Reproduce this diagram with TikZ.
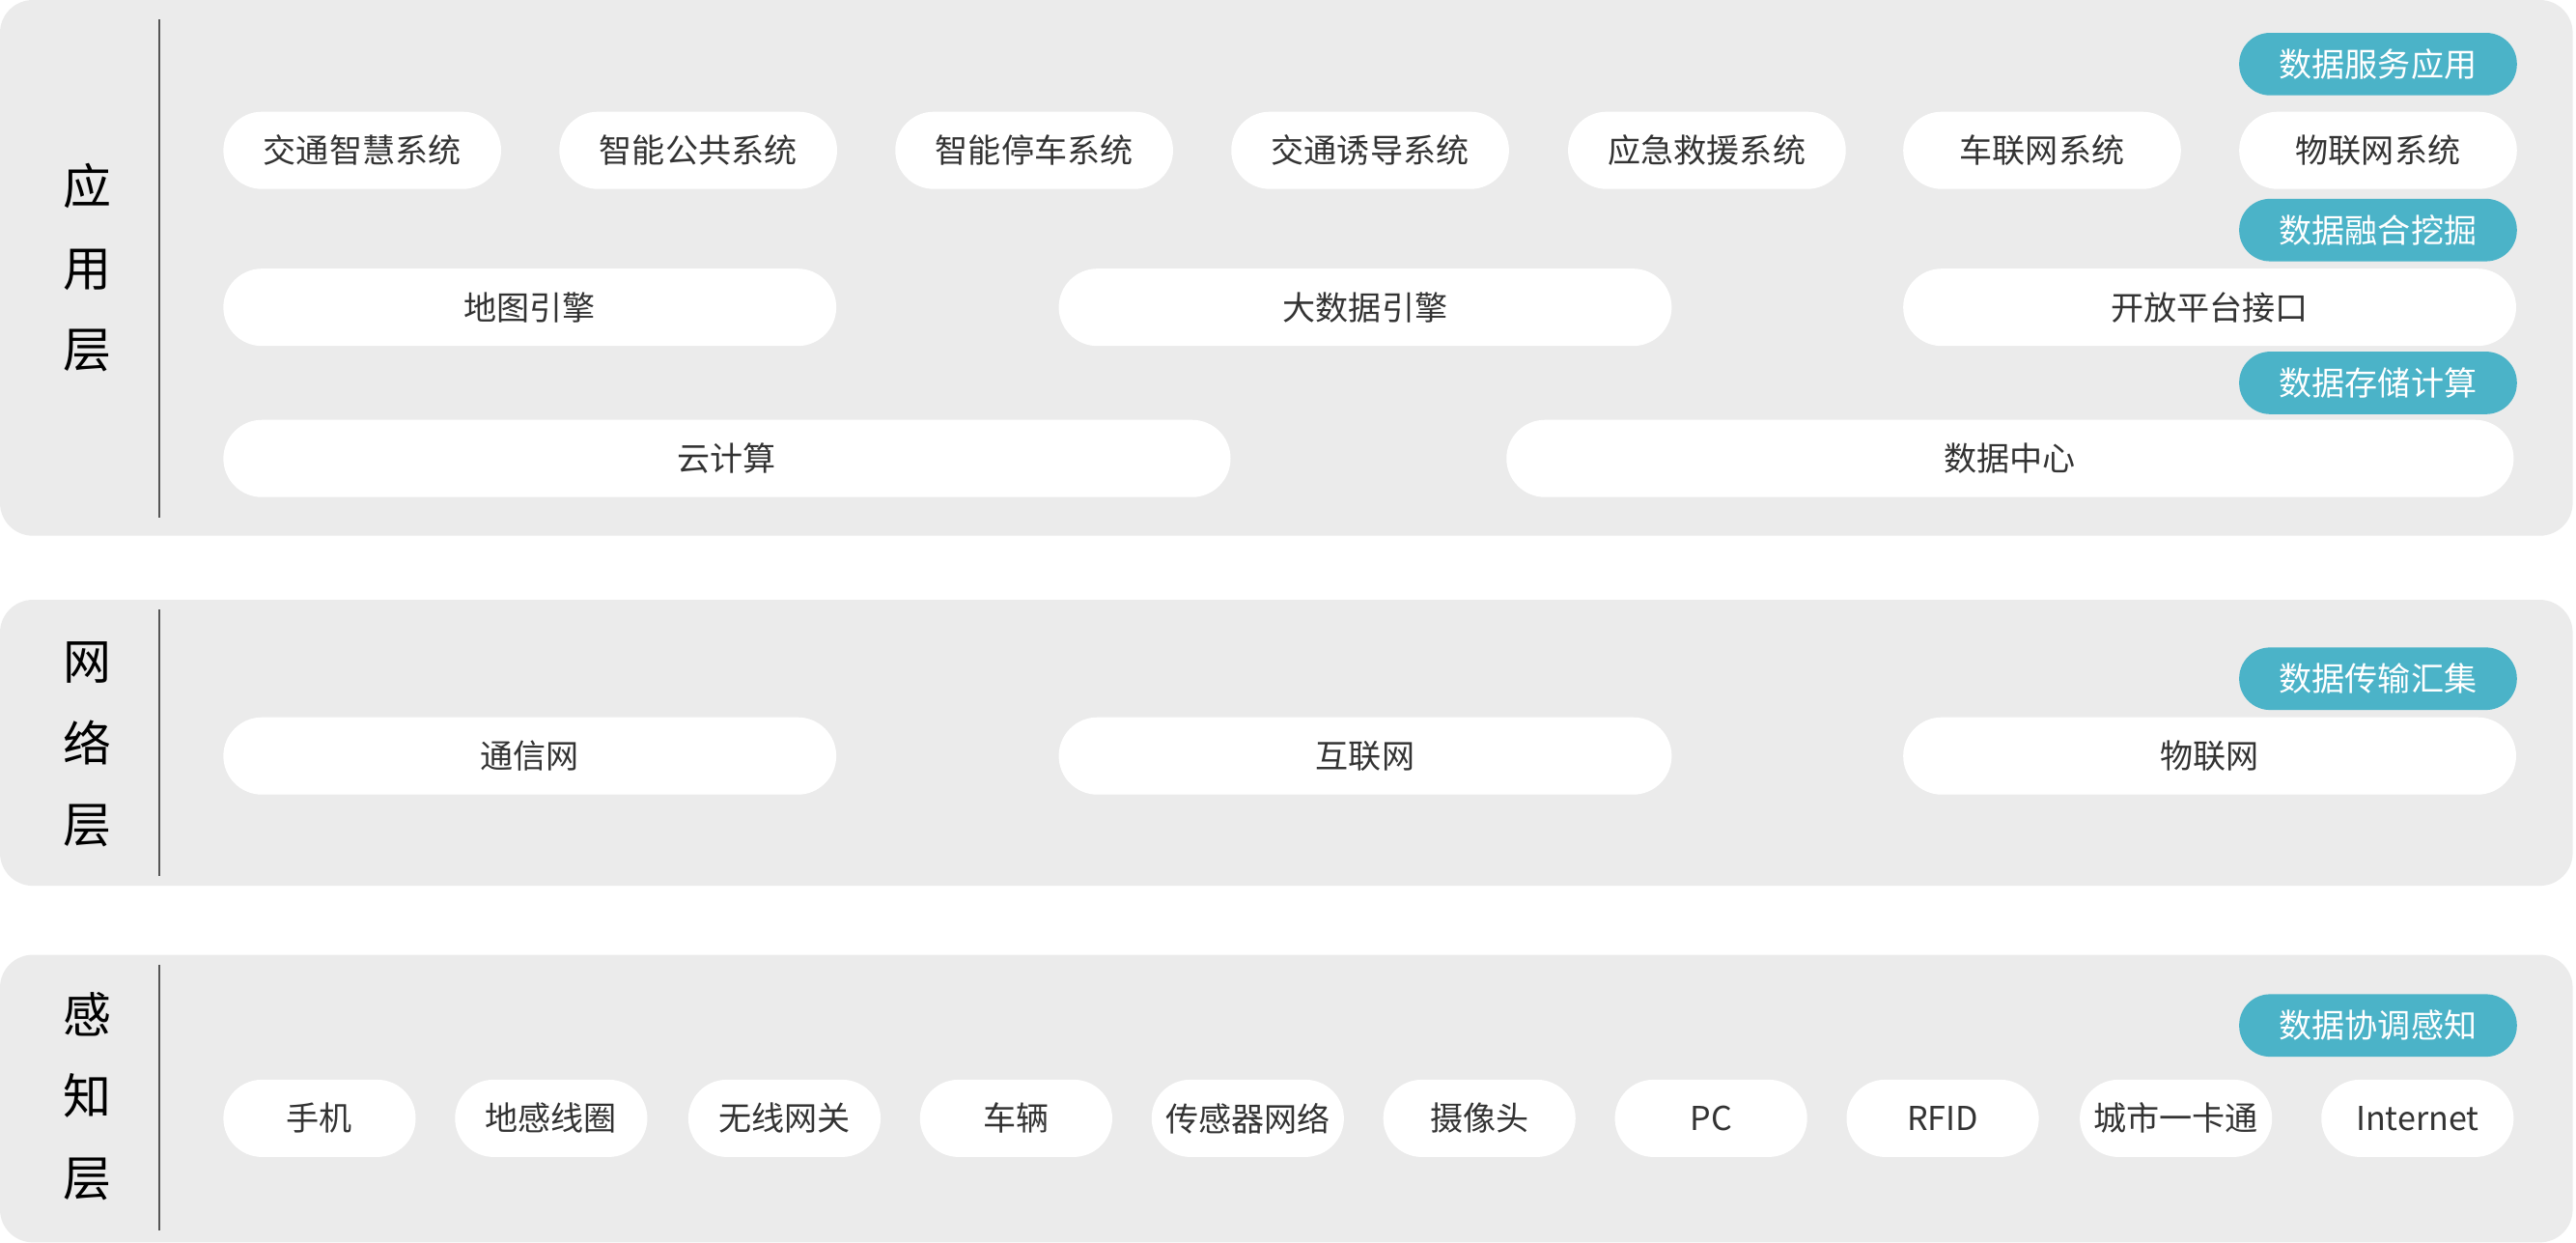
\documentclass[tikz,border=0pt]{standalone}
\usepackage{fontspec}
\setmainfont{Noto Sans CJK SC}
\definecolor{panelgray}{HTML}{EBEBEB}
\definecolor{tagteal}{HTML}{4BB3C8}
\definecolor{txtgray}{HTML}{333333}
\definecolor{rulegray}{HTML}{555555}
\begin{document}
\begin{tikzpicture}[x=0.017015cm,y=-0.017015cm,
  panel/.style={fill=panelgray,rounded corners=0.34cm},
  divider/.style={draw=rulegray,line width=0.7pt},
  layer/.style={align=center,text=black,font=\fontsize{14.2}{24}\selectfont},
  pill/.style={fill=white,rounded corners=0.399cm,minimum height=0.8cm,inner sep=0pt,
    text=txtgray,font=\fontsize{9.7}{11}\selectfont},
  tag/.style={fill=tagteal,rounded corners=0.32cm,minimum height=0.647cm,minimum width=2.876cm,
    inner sep=0pt,text=white,font=\fontsize{9.7}{11}\selectfont},
  small/.style={pill,minimum width=2.876cm},
  mid/.style={pill,minimum width=6.347cm},
  wide/.style={pill,minimum width=10.43cm},
  tiny/.style={pill,minimum width=1.991cm}]
\useasboundingbox (0,0) rectangle (1568,756);
% three layers
\fill[panel] (0,0) rectangle (1566,326);
\fill[panel] (0,365) rectangle (1566,539);
\fill[panel] (0,581) rectangle (1566,756);
\draw[divider] (97,12) -- (97,315);
\draw[divider] (97,371) -- (97,533);
\draw[divider] (97,587) -- (97,749);
\node[layer] (app) at (53,163) {应\\用\\层};
\node[layer] (net) at (53,453) {网\\络\\层};
\node[layer] (sense) at (53,667) {感\\知\\层};
% application layer
\node[tag] (serve) at (1447.5,39) {数据服务应用};
\node[small] (jtzh) at (220.5,91.5) {交通智慧系统};
\node[small] (zngg) at (425,91.5) {智能公共系统};
\node[small] (zntc) at (629.5,91.5) {智能停车系统};
\node[small] (jtyd) at (834,91.5) {交通诱导系统};
\node[small] (yjjy) at (1039,91.5) {应急救援系统};
\node[small] (clw) at (1243,91.5) {车联网系统};
\node[small] (wlwxt) at (1447.5,91.5) {物联网系统};
\node[tag] (fuse) at (1447.5,140) {数据融合挖掘};
\node[mid] (map) at (322.5,187) {地图引擎};
\node[mid] (bigdata) at (831,187) {大数据引擎};
\node[mid] (api) at (1345,187) {开放平台接口};
\node[tag] (store) at (1447.5,233) {数据存储计算};
\node[wide] (cloud) at (442.5,279) {云计算};
\node[wide] (dc) at (1223.5,279) {数据中心};
% network layer
\node[tag] (trans) at (1447.5,413) {数据传输汇集};
\node[mid] (comm) at (322.5,460) {通信网};
\node[mid] (inet) at (831,460) {互联网};
\node[mid] (iot) at (1345,460) {物联网};
% perception layer
\node[tag] (coord) at (1447.5,624) {数据协调感知};
\node[tiny] (phone) at (194.5,680.5) {手机};
\node[tiny] (loop) at (335.5,680.5) {地感线圈};
\node[tiny] (gw) at (477.5,680.5) {无线网关};
\node[tiny] (car) at (618.5,680.5) {车辆};
\node[tiny] (wsn) at (759.5,680.5) {传感器网络};
\node[tiny] (cam) at (900.5,680.5) {摄像头};
\node[tiny] (pc) at (1041.5,680.5) {PC};
\node[tiny] (rfid) at (1182.5,680.5) {RFID};
\node[tiny] (card) at (1324.5,680.5) {城市一卡通};
\node[tiny] (www) at (1471.5,680.5) {Internet};
\end{tikzpicture}
\end{document}
